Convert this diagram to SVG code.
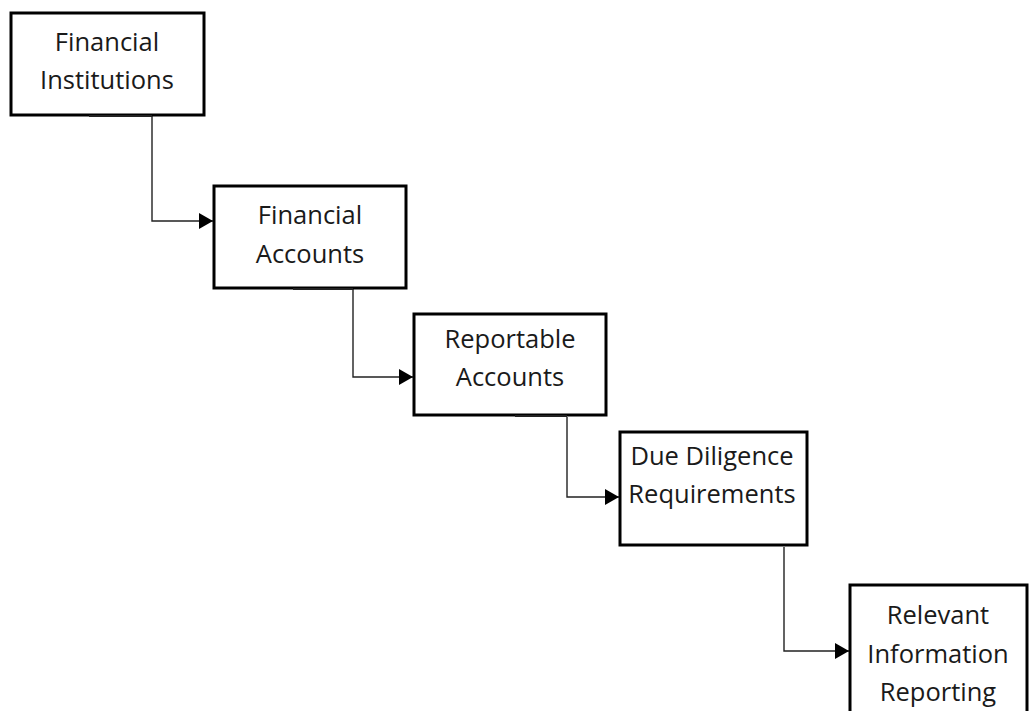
<svg xmlns="http://www.w3.org/2000/svg" width="1031" height="711" viewBox="0 0 1031 711">
<defs>
<marker id="arr" markerWidth="15" markerHeight="16" refX="14" refY="8" orient="auto" markerUnits="userSpaceOnUse">
<path d="M0,0 L14,8 L0,16 Z" fill="#000"/>
</marker>
<style>
.box{fill:#fff;stroke:#000;stroke-width:3}
.lbl{font-family:"Open Sans","Liberation Sans",Arial,sans-serif;font-size:25.5px;fill:#1a1a1a;text-anchor:middle}
.con{fill:none;stroke:#222;stroke-width:1.4}
.stub{stroke:#222;stroke-width:2}
</style>
</defs>
<rect width="1031" height="711" fill="#fff"/>
<g id="connectors">
<path class="con" d="M152,116 V221 H213" marker-end="url(#arr)"/>
<path class="con" d="M353,289 V377 H413" marker-end="url(#arr)"/>
<path class="con" d="M567,417 V497 H619" marker-end="url(#arr)"/>
<path class="con" d="M784,547 V651 H849" marker-end="url(#arr)"/>
</g>
<g id="n1">
<rect class="box" x="11" y="13" width="193" height="102"/>
<line class="stub" x1="89" y1="116" x2="152" y2="116"/>
<text class="lbl" x="107" y="51">Financial</text>
<text class="lbl" x="107" y="89">Institutions</text>
</g>
<g id="n2">
<rect class="box" x="214" y="186" width="192" height="102"/>
<line class="stub" x1="293" y1="289" x2="353" y2="289"/>
<text class="lbl" x="310" y="224">Financial</text>
<text class="lbl" x="310" y="263">Accounts</text>
</g>
<g id="n3">
<rect class="box" x="414" y="314" width="192" height="101"/>
<line class="stub" x1="515" y1="416" x2="567" y2="416"/>
<text class="lbl" x="510" y="348">Reportable</text>
<text class="lbl" x="510" y="386">Accounts</text>
</g>
<g id="n4">
<rect class="box" x="620" y="432" width="187" height="113"/>
<text class="lbl" x="712" y="465">Due Diligence</text>
<text class="lbl" x="712" y="503">Requirements</text>
</g>
<g id="n5">
<rect class="box" x="850" y="585" width="177" height="140"/>
<text class="lbl" x="938" y="624">Relevant</text>
<text class="lbl" x="938" y="663">Information</text>
<text class="lbl" x="938" y="701">Reporting</text>
</g>
</svg>
